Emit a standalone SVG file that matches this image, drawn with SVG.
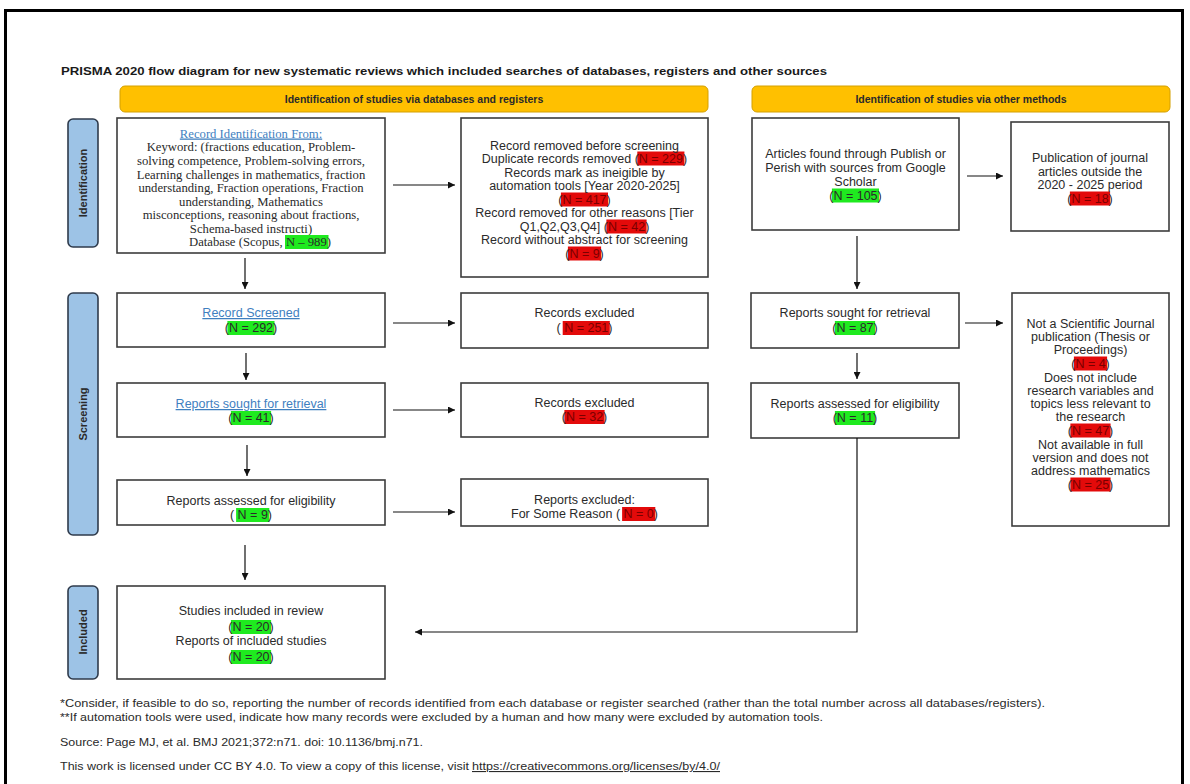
<svg xmlns="http://www.w3.org/2000/svg" width="1190" height="784" viewBox="0 0 1190 784">
<defs>
<marker id="ah" viewBox="0 0 10 10" refX="10" refY="5" markerUnits="userSpaceOnUse" markerWidth="8" markerHeight="7" orient="auto">
<path d="M0,0 L10,5 L0,10 z" fill="#111"/>
</marker>
<style>
.box{fill:#fff;stroke:#3c3c3c;stroke-width:1.6}
.ban{fill:#FFC000;stroke:#D4A000;stroke-width:1}
.side{fill:#9DC3E6;stroke:#2F3B4C;stroke-width:1.6}
.t{font-family:"Liberation Sans",Arial,sans-serif;font-size:12.5px;fill:#2a2a2a;text-anchor:middle}
.s{font-family:"Liberation Serif","Times New Roman",serif;font-size:12.7px;fill:#2a2a2a;text-anchor:middle}
.st{text-anchor:start}
.lnk{fill:#3F7FBF;text-decoration:underline}
.bt{font-family:"Liberation Sans",Arial,sans-serif;font-size:10.5px;font-weight:bold;fill:#2a2a2a;text-anchor:middle}
.sl{font-family:"Liberation Sans",Arial,sans-serif;font-size:11px;font-weight:bold;fill:#2a2a2a;text-anchor:middle}
.fn{font-family:"Liberation Sans",Arial,sans-serif;font-size:11px;fill:#2a2a2a}
.g{fill:#1FEA1F}
.r{fill:#E30A0A}
.rt{fill:#7a0000}
.c{fill:none;stroke:#111;stroke-width:1.2}
</style>
</defs>
<rect x="0" y="0" width="1190" height="784" fill="#fff"/>
<rect x="5.5" y="10.5" width="1177" height="790" fill="none" stroke="#000" stroke-width="3"/>

<text x="61" y="75" font-family="'Liberation Sans',Arial,sans-serif" font-size="11.5" font-weight="bold" fill="#1a1a1a" textLength="766" lengthAdjust="spacingAndGlyphs">PRISMA 2020 flow diagram for new systematic reviews which included searches of databases, registers and other sources</text>

<g id="banner-left"><rect class="ban" x="120" y="86" width="588" height="26" rx="5"/><text class="bt" x="414" y="103">Identification of studies via databases and registers</text></g>
<g id="banner-right"><rect class="ban" x="752" y="86" width="418" height="26" rx="5"/><text class="bt" x="961" y="103">Identification of studies via other methods</text></g>

<g id="side-identification"><rect class="side" x="68" y="119" width="30" height="128" rx="5"/><text class="sl" transform="translate(87,183) rotate(-90)">Identification</text></g>
<g id="side-screening"><rect class="side" x="68" y="293" width="30" height="242" rx="5"/><text class="sl" transform="translate(87,414) rotate(-90)">Screening</text></g>
<g id="side-included"><rect class="side" x="68" y="586" width="30" height="93" rx="5"/><text class="sl" transform="translate(87,632) rotate(-90)">Included</text></g>

<g id="record-identification">
<rect class="box" x="117" y="118" width="268" height="135"/>
<text class="s lnk" x="251" y="137.5">Record Identification From:</text>
<text class="s" x="251" y="151">Keyword: (fractions education, Problem-</text>
<text class="s" x="251" y="164.5">solving competence, Problem-solving errors,</text>
<text class="s" x="251" y="178.5">Learning challenges in mathematics, fraction</text>
<text class="s" x="251" y="192">understanding, Fraction operations, Fraction</text>
<text class="s" x="251" y="205.5">understanding, Mathematics</text>
<text class="s" x="251" y="219">misconceptions, reasoning about fractions,</text>
<text class="s" x="251" y="232.5">Schema-based instructi)</text>
<rect class="g" x="285" y="235" width="43.5" height="14"/>
<text class="s st" x="189" y="246">Database (Scopus, N – 989)</text>
</g>

<g id="records-removed">
<rect class="box" x="461" y="118" width="247" height="159"/>
<rect class="r" x="637.3" y="151.5" width="47.1" height="14"/>
<rect class="r" x="560.9" y="192.5" width="47.1" height="14"/>
<rect class="r" x="606.4" y="219.5" width="40.2" height="14"/>
<rect class="r" x="567.9" y="246.5" width="33.2" height="14"/>
<text class="t" x="584.5" y="149.5">Record removed before screening</text>
<text class="t" x="584.5" y="162.5">Duplicate records removed (<tspan class="rt">N = 229</tspan>)</text>
<text class="t" x="584.5" y="176.5">Records mark as ineigible by</text>
<text class="t" x="584.5" y="189.5">automation tools [Year 2020-2025]</text>
<text class="t" x="584.5" y="203.5">(<tspan class="rt">N = 417</tspan>)</text>
<text class="t" x="584.5" y="216.5">Record removed for other reasons [Tier</text>
<text class="t" x="584.5" y="230.5">Q1,Q2,Q3,Q4] (<tspan class="rt">N = 42</tspan>)</text>
<text class="t" x="584.5" y="243.5">Record without abstract for screening</text>
<text class="t" x="584.5" y="257.5">(<tspan class="rt">N = 9</tspan>)</text>
</g>

<g id="articles-found">
<rect class="box" x="752" y="118" width="207" height="112"/>
<rect class="g" x="831.9" y="188.5" width="47.1" height="14"/>
<text class="t" x="855.5" y="157.5">Articles found through Publish or</text>
<text class="t" x="855.5" y="171.5">Perish with sources from Google</text>
<text class="t" x="855.5" y="185.5">Scholar</text>
<text class="t" x="855.5" y="199.5">(N = 105)</text>
</g>

<g id="publication-outside">
<rect class="box" x="1011" y="122" width="158" height="109"/>
<rect class="r" x="1069.9" y="191.5" width="40.2" height="14"/>
<text class="t" x="1090" y="161.5">Publication of journal</text>
<text class="t" x="1090" y="175.5">articles outside the</text>
<text class="t" x="1090" y="188.5">2020 - 2025 period</text>
<text class="t" x="1090" y="202.5">(<tspan class="rt">N = 18</tspan>)</text>
</g>

<g id="record-screened">
<rect class="box" x="117" y="293" width="268" height="54"/>
<rect class="g" x="227.4" y="321" width="47.1" height="14"/>
<text class="t lnk" x="251" y="317">Record Screened</text>
<text class="t" x="251" y="332">(N = 292)</text>
</g>

<g id="records-excluded-1">
<rect class="box" x="461" y="293" width="247" height="55"/>
<rect class="r" x="562.7" y="321" width="47.1" height="14"/>
<text class="t" x="584.5" y="317">Records excluded</text>
<text class="t" x="584.5" y="332">( <tspan class="rt">N = 251</tspan>)</text>
</g>

<g id="reports-sought-left">
<rect class="box" x="117" y="383" width="268" height="54"/>
<rect class="g" x="230.9" y="411" width="40.2" height="14"/>
<text class="t lnk" x="251" y="408">Reports sought for retrieval</text>
<text class="t" x="251" y="422">(N = 41)</text>
</g>

<g id="records-excluded-2">
<rect class="box" x="461" y="383" width="247" height="54"/>
<rect class="r" x="564.4" y="410" width="40.2" height="14"/>
<text class="t" x="584.5" y="407">Records excluded</text>
<text class="t" x="584.5" y="421">(<tspan class="rt">N = 32</tspan>)</text>
</g>

<g id="reports-assessed-left">
<rect class="box" x="117" y="480" width="268" height="45"/>
<rect class="g" x="236.1" y="508" width="33.2" height="14"/>
<text class="t" x="251" y="505">Reports assessed for eligibility</text>
<text class="t" x="251" y="519">( N = 9)</text>
</g>

<g id="reports-excluded">
<rect class="box" x="461" y="479" width="247" height="47"/>
<rect class="r" x="622.1" y="507" width="33.2" height="14"/>
<text class="t" x="584.5" y="503.5">Reports excluded:</text>
<text class="t" x="584.5" y="518">For Some Reason ( <tspan class="rt">N = 0</tspan>)</text>
</g>

<g id="reports-sought-right">
<rect class="box" x="751" y="293" width="208" height="55"/>
<rect class="g" x="834.9" y="321" width="40.2" height="14"/>
<text class="t" x="855" y="317">Reports sought for retrieval</text>
<text class="t" x="855" y="332">(N = 87)</text>
</g>

<g id="reports-assessed-right">
<rect class="box" x="751" y="383" width="208" height="55"/>
<rect class="g" x="834.9" y="411" width="40.2" height="14"/>
<text class="t" x="855" y="408">Reports assessed for eligibility</text>
<text class="t" x="855" y="422">(N = 11)</text>
</g>

<g id="not-scientific">
<rect class="box" x="1012" y="293" width="157" height="233"/>
<rect class="r" x="1073.9" y="356.5" width="33.2" height="14"/>
<rect class="r" x="1070.4" y="423.5" width="40.2" height="14"/>
<rect class="r" x="1070.4" y="477.5" width="40.2" height="14"/>
<text class="t" x="1090.5" y="327.5">Not a Scientific Journal</text>
<text class="t" x="1090.5" y="340.5">publication (Thesis or</text>
<text class="t" x="1090.5" y="353.5">Proceedings)</text>
<text class="t" x="1090.5" y="367.5">(<tspan class="rt">N = 4</tspan>)</text>
<text class="t" x="1090.5" y="381.5">Does not include</text>
<text class="t" x="1090.5" y="394.5">research variables and</text>
<text class="t" x="1090.5" y="407.5">topics less relevant to</text>
<text class="t" x="1090.5" y="420.5">the research</text>
<text class="t" x="1090.5" y="434.5">(<tspan class="rt">N = 47</tspan>)</text>
<text class="t" x="1090.5" y="448.5">Not available in full</text>
<text class="t" x="1090.5" y="461.5">version and does not</text>
<text class="t" x="1090.5" y="474.5">address mathematics</text>
<text class="t" x="1090.5" y="488.5">(<tspan class="rt">N = 25</tspan>)</text>
</g>

<g id="studies-included">
<rect class="box" x="117" y="586" width="268" height="93"/>
<rect class="g" x="230.9" y="620" width="40.2" height="14"/>
<rect class="g" x="230.9" y="650" width="40.2" height="14"/>
<text class="t" x="251" y="615">Studies included in review</text>
<text class="t" x="251" y="631">(N = 20)</text>
<text class="t" x="251" y="645">Reports of included studies</text>
<text class="t" x="251" y="661">(N = 20)</text>
</g>

<g id="connectors">
<line class="c" x1="393" y1="185" x2="455" y2="185" marker-end="url(#ah)"/>
<line class="c" x1="245" y1="258" x2="245" y2="289" marker-end="url(#ah)"/>
<line class="c" x1="393" y1="323" x2="455" y2="323" marker-end="url(#ah)"/>
<line class="c" x1="246" y1="353" x2="246" y2="380" marker-end="url(#ah)"/>
<line class="c" x1="393" y1="410" x2="455" y2="410" marker-end="url(#ah)"/>
<line class="c" x1="247" y1="445" x2="247" y2="476" marker-end="url(#ah)"/>
<line class="c" x1="393" y1="512" x2="455" y2="512" marker-end="url(#ah)"/>
<line class="c" x1="245" y1="545" x2="245" y2="580" marker-end="url(#ah)"/>
<line class="c" x1="967" y1="176" x2="1003" y2="176" marker-end="url(#ah)"/>
<line class="c" x1="857" y1="236" x2="857" y2="289" marker-end="url(#ah)"/>
<line class="c" x1="965" y1="323" x2="1003" y2="323" marker-end="url(#ah)"/>
<line class="c" x1="857" y1="353" x2="857" y2="379" marker-end="url(#ah)"/>
<polyline class="c" points="857,438 857,632 415,632" marker-end="url(#ah)"/>
</g>

<g id="footnotes">
<text class="fn" x="60" y="707" textLength="985" lengthAdjust="spacingAndGlyphs">*Consider, if feasible to do so, reporting the number of records identified from each database or register searched (rather than the total number across all databases/registers).</text>
<text class="fn" x="60" y="721" textLength="763" lengthAdjust="spacingAndGlyphs">**If automation tools were used, indicate how many records were excluded by a human and how many were excluded by automation tools.</text>
<text class="fn" x="60" y="746" textLength="363" lengthAdjust="spacingAndGlyphs">Source: Page MJ, et al. BMJ 2021;372:n71. doi: 10.1136/bmj.n71.</text>
<text class="fn" x="60" y="770" textLength="409" lengthAdjust="spacingAndGlyphs">This work is licensed under CC BY 4.0. To view a copy of this license, visit</text>
<text class="fn lnk" x="472" y="770" textLength="248" lengthAdjust="spacingAndGlyphs">https://creativecommons.org/licenses/by/4.0/</text>
</g>
</svg>
